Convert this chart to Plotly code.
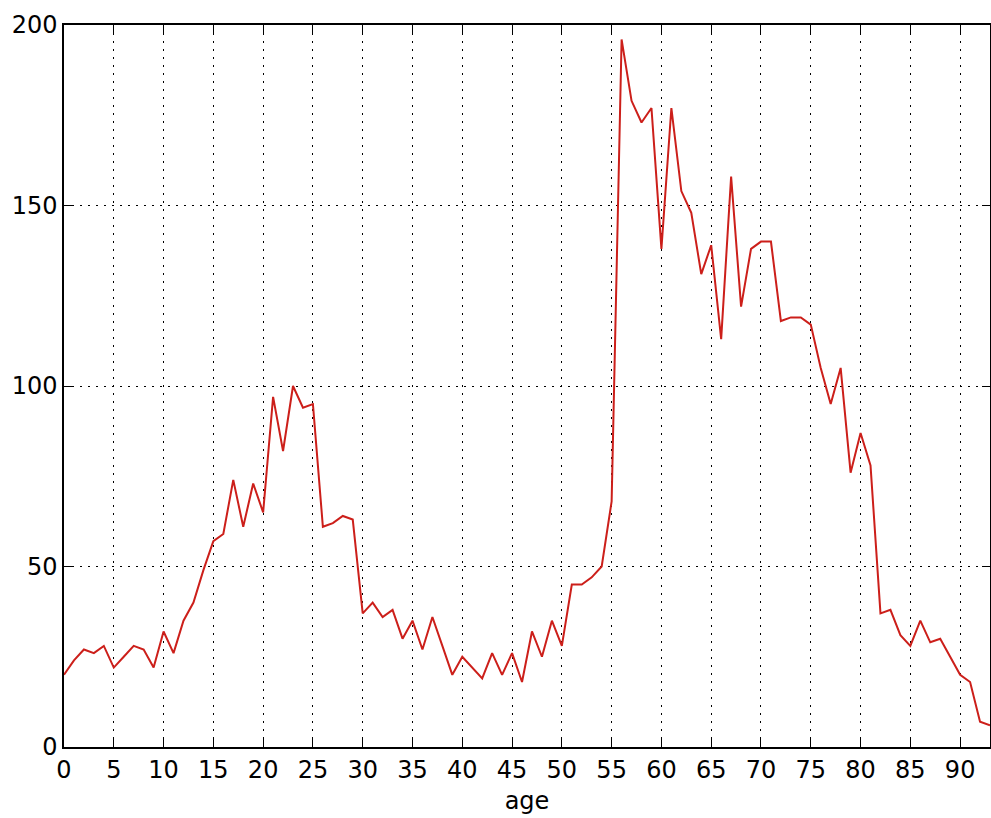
import plotly.graph_objects as go

### Data

ages = list(range(0, 94))
counts = [20, 24, 27, 26, 28, 22, 25, 28, 27, 22,
          32, 26, 35, 40, 49, 57, 59, 74, 61, 73,
          65, 97, 82, 100, 94, 95, 61, 62, 64, 63,
          37, 40, 36, 38, 30, 35, 27, 36, 28, 20,
          25, 22, 19, 26, 20, 26, 18, 32, 25, 35,
          28, 45, 45, 47, 50, 68, 196, 179, 173, 177,
          138, 177, 154, 148, 131, 139, 113, 158, 122, 138,
          140, 140, 118, 119, 119, 117, 105, 95, 105, 76,
          87, 78, 37, 38, 31, 28, 35, 29, 30, 25,
          20, 18, 7, 6]

x_ticks = list(range(0, 95, 5))
y_ticks = [0, 50, 100, 150, 200]

fig = go.Figure()
fig.add_trace(go.Scatter(
    x=ages,
    y=counts,
    mode='lines',
    line=dict(color='#cc1f1a', width=2),
    showlegend=False
    ))

axis_style = dict(
    showline=True, linecolor='black', linewidth=1.5, mirror='ticks',
    ticks='inside', ticklen=8, tickwidth=1, tickcolor='black',
    showgrid=True, gridcolor='black', gridwidth=1.2, griddash='2px,6px',
    zeroline=False, automargin=False,
    tickfont=dict(family='DejaVu Sans', size=24, color='black'),
    )

fig.update_xaxes(axis_style, range=[0, 93], tickvals=x_ticks,
                 title=dict(text='age', standoff=10,
                            font=dict(family='DejaVu Sans', size=24, color='black')))
fig.update_yaxes(axis_style, range=[0, 200], tickvals=y_ticks)

fig.update_layout(
    width=991, height=818,
    plot_bgcolor='white', paper_bgcolor='white',
    margin=dict(l=64, r=1, t=25, b=71),
    )

# drop the default page margin so the figure fills the window exactly
fig.write_html('out.html', config={'displayModeBar': False},
               post_script="document.body.style.margin='0';")
